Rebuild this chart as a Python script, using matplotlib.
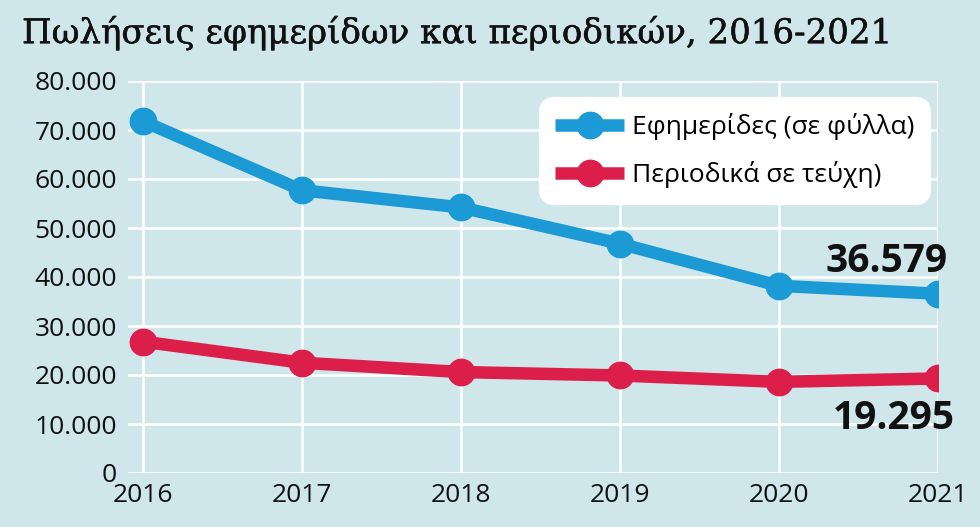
import matplotlib
matplotlib.use("Agg")
import matplotlib.pyplot as plt
import matplotlib.patheffects as pe
from matplotlib.ticker import FuncFormatter

years = ["2016", "2017", "2018", "2019", "2020", "2021"]
newspapers = [71800, 57700, 54200, 46800, 38200, 36579]
magazines = [26800, 22500, 20600, 19900, 18600, 19295]
yticks = [0, 10000, 20000, 30000, 40000, 50000, 60000, 70000, 80000]
title = "Πωλήσεις εφημερίδων και περιοδικών, 2016-2021"
label_news = "Εφημερίδες (σε φύλλα)"
label_mag = "Περιοδικά σε τεύχη)"

BG = "#cfe6ea"
BLUE = "#1b9ad6"
RED = "#dc1e4b"

plt.rcParams['font.family'] = ['Open Sans', 'DejaVu Sans']

fig = plt.figure(figsize=(9.8, 5.27), dpi=100, facecolor=BG)
ax = fig.add_axes([128/980, 1-473/527, 810/980, 392/527])
ax.set_facecolor(BG)

x = list(range(len(years)))
ax.plot(x, newspapers, color=BLUE, lw=9, marker='o', ms=19, label=label_news, solid_capstyle='butt', zorder=3)
ax.plot(x, magazines, color=RED, lw=9, marker='o', ms=19, label=label_mag, solid_capstyle='butt', zorder=3)

ax.set_xlim(-15/159, 5)
ax.set_ylim(0, 80000)
ax.set_xticks(x)
ax.set_xticklabels(years)
ax.set_yticks(yticks)
ax.yaxis.set_major_formatter(FuncFormatter(lambda v, p: f"{int(v):,}".replace(",", ".")))
ax.grid(True, color="white", lw=1.8, zorder=0)
for s in ax.spines.values():
    s.set_visible(False)
ax.tick_params(length=0, labelsize=19, colors="#111111")
ax.tick_params(axis='y', pad=8)
ax.tick_params(axis='x', pad=7)

ax.annotate(f"{newspapers[-1]:,}".replace(",", "."), (x[-1], newspapers[-1]), xytext=(7, 9),
            textcoords='offset points', ha='right', va='bottom', fontsize=28, fontweight='bold', color='#111111')
ax.annotate(f"{magazines[-1]:,}".replace(",", "."), (x[-1], magazines[-1]), xytext=(12, -15),
            textcoords='offset points', ha='right', va='top', fontsize=28, fontweight='bold', color='#111111')

leg = ax.legend(loc='upper right', bbox_to_anchor=((930-128)/810, (473-97)/392), fontsize=19,
                frameon=True, borderaxespad=0,
                fancybox=True, framealpha=1, edgecolor='white', facecolor='white',
                handlelength=2.6, handletextpad=0.3, labelspacing=0.8, borderpad=0.6)
leg.get_frame().set_boxstyle('round,pad=0,rounding_size=0.6')

fig.text(22/980, 1-33/527, title, fontsize=24.5, family=['DejaVu Serif'], va='center', ha='left', color='#111111',
         path_effects=[pe.withStroke(linewidth=0.35, foreground='#111111')])

fig.savefig("out.png", dpi=100, facecolor=BG)
